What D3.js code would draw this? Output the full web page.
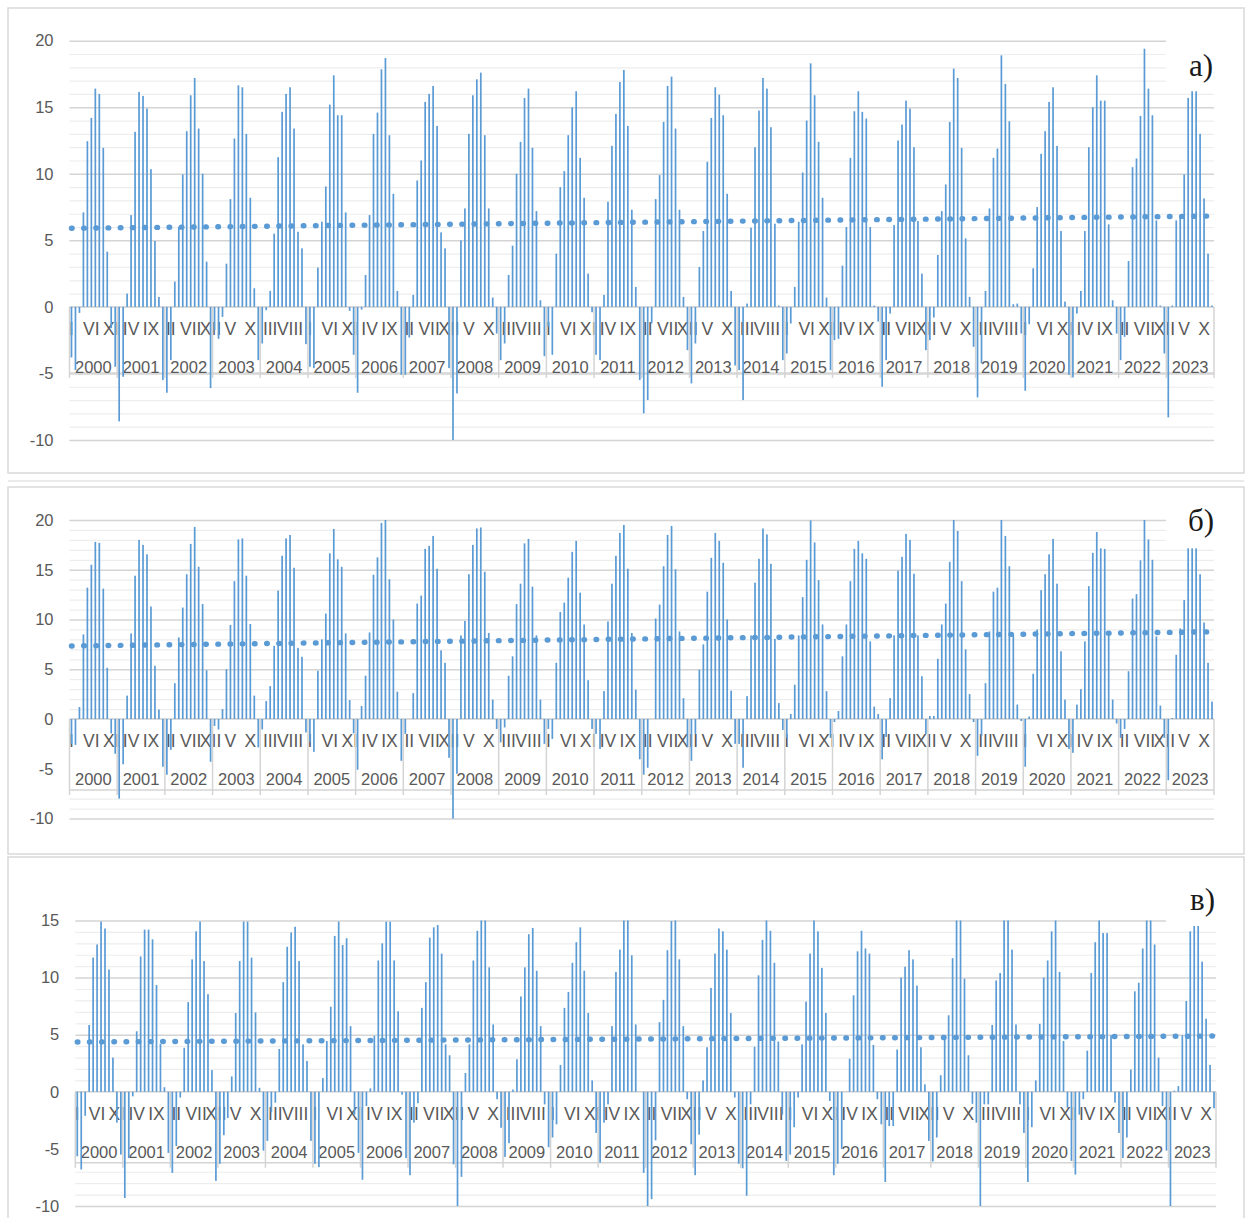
<!doctype html>
<html>

<head>
    <meta charset="utf-8">
    <title>Monthly values 2000-2023</title>
    <script src="https://cdn.jsdelivr.net/npm/d3@7"></script>
    <style type="text/css">
    body {
        margin: 0;
        background: #fff;
    }

    svg text {
        font-family: "Liberation Sans", Arial, sans-serif;
        fill: #595959;
    }

    .tag {
        font-family: "Liberation Serif", "Times New Roman", serif !important;
        fill: #1a1a1a !important;
    }

    .domain {
        visibility: hidden;
    }
    </style>
</head>

<body>
    <svg id="chart" width="1246" height="1218"></svg>
<script type="text/javascript">

// Tick labels
var years = [2000, 2001, 2002, 2003, 2004, 2005, 2006, 2007, 2008, 2009, 2010, 2011,
    2012, 2013, 2014, 2015, 2016, 2017, 2018, 2019, 2020, 2021, 2022, 2023];
var months = ["I", "II", "III", "IV", "V", "VI", "VII", "VIII", "IX", "X", "XI", "XII"];
var ticksA = [-10, -5, 0, 5, 10, 15, 20];
var ticksB = [-10, -5, 0, 5, 10, 15, 20];
var ticksC = [-10, -5, 0, 5, 10, 15];

// Series a) - one row per year, I..XII
var seriesA = [
    -3.8, -4.75, -0.45, 7.1, 12.45, 14.2, 16.4, 16.0, 11.95, 4.15, -1.6, -4.5,
    -8.6, -5.25, 1.0, 6.9, 13.15, 16.15, 15.85, 14.9, 10.35, 4.95, 0.75, -5.5,
    -6.45, -4.0, 1.9, 6.0, 9.95, 13.2, 15.9, 17.2, 13.4, 10.0, 3.4, -6.1,
    -1.75, -2.4, -0.75, 3.25, 8.1, 12.65, 16.65, 16.5, 13.0, 8.2, 1.4, -4.0,
    -2.75, -0.25, 1.2, 5.5, 11.25, 14.65, 16.0, 16.5, 13.4, 5.65, 4.4, -2.8,
    -4.5, -4.6, 2.95, 6.4, 9.05, 15.2, 17.4, 14.4, 14.4, 7.1, -0.3, -3.6,
    -6.45, -0.2, 2.4, 6.9, 13.0, 14.6, 17.85, 18.7, 12.9, 8.5, 1.2, -5.1,
    -5.1, -2.3, 0.9, 9.5, 11.0, 15.4, 16.0, 16.6, 13.6, 5.6, 4.4, -4.6,
    -10.1, -6.5, 5.0, 7.4, 13.0, 15.9, 17.1, 17.6, 12.9, 7.4, 0.7, -2.0,
    -4.0, -2.75, 2.4, 4.6, 10.0, 12.4, 15.7, 16.4, 11.95, 7.2, 0.5, -3.7,
    -1.5, -3.6, 4.0, 9.0, 10.2, 12.9, 15.0, 16.2, 11.2, 8.2, 2.5, -0.4,
    -3.6, -4.0, 0.9, 7.9, 12.1, 14.5, 16.9, 17.8, 13.6, 7.3, 1.5, -5.5,
    -8.0, -7.0, -1.25, 8.1, 9.9, 13.9, 16.6, 17.3, 13.4, 7.3, 0.75, -3.25,
    -5.75, -2.75, 3.0, 5.7, 10.9, 14.2, 16.5, 15.95, 14.4, 8.5, 1.2, -4.4,
    -4.75, -7.0, 0.25, 5.95, 12.0, 14.75, 17.2, 16.4, 13.5, 6.25, 0.1, -4.0,
    -3.5, -1.25, 1.5, 6.4, 10.1, 14.0, 18.3, 15.9, 12.4, 8.2, 0.7, -4.75,
    -2.5, -2.4, 3.1, 6.0, 11.2, 14.7, 16.2, 14.65, 14.15, 6.0, 0.1, -1.1,
    -6.0, -4.0, -0.5, 6.15, 12.5, 13.7, 15.5, 14.9, 12.0, 6.45, 2.5, -3.25,
    -2.5, -0.8, 3.9, 7.2, 9.2, 13.9, 17.9, 17.2, 11.95, 5.15, 0.75, -3.0,
    -6.8, -4.25, 1.2, 7.4, 11.2, 11.9, 18.9, 16.75, 13.95, 0.2, 0.25, -2.0,
    -6.3, -1.3, 2.9, 7.5, 11.5, 13.2, 15.4, 16.5, 12.1, 5.7, 0.4, -5.1,
    -5.3, -0.5, 1.2, 5.7, 12.0, 15.0, 17.4, 15.5, 15.5, 6.2, 0.5, -2.0,
    -4.0, -2.25, 3.45, 10.5, 11.15, 14.35, 19.4, 16.4, 14.4, 6.5, 0.1, -3.5,
    -8.3, 0.1, 6.5, 6.9, 9.95, 15.7, 16.2, 16.2, 13.0, 8.15, 4.0, 0.1
];

// Series б)
var seriesB = [
    -2.5, -2.6, 1.2, 8.5, 13.2, 15.5, 17.8, 17.7, 13.1, 5.15, -1.45, -3.5,
    -8.0, -4.55, 2.35, 8.6, 14.4, 18.0, 17.5, 16.55, 11.3, 5.35, 0.95, -4.8,
    -5.6, -3.1, 3.6, 8.2, 11.2, 14.55, 17.6, 19.3, 15.3, 11.55, 4.9, -4.3,
    -0.7, -1.05, 1.0, 5.0, 9.45, 13.85, 18.05, 18.15, 14.4, 9.55, 2.35, -2.85,
    -1.05, 1.8, 3.3, 7.35, 12.9, 16.4, 18.15, 18.5, 15.2, 7.15, 6.25, -1.35,
    -2.3, -3.3, 4.85, 8.0, 10.6, 16.65, 19.1, 16.05, 15.3, 8.6, 1.9, -1.45,
    -5.1, 1.3, 4.35, 8.7, 14.5, 16.25, 19.7, 20.0, 14.05, 10.0, 2.75, -4.2,
    -1.5, 0.0, 2.6, 11.6, 12.4, 17.1, 17.4, 18.4, 15.1, 6.9, 5.65, -3.9,
    -10.2, -5.5, 8.4, 9.85, 14.55, 17.5, 19.15, 19.25, 14.8, 8.65, 1.95, -1.0,
    -2.35, -0.85, 4.35, 6.3, 11.55, 13.6, 17.65, 18.1, 13.3, 8.4, 1.95, -2.5,
    -1.0, -2.0, 5.65, 10.75, 11.7, 14.2, 16.8, 17.9, 12.7, 9.5, 3.9, -1.0,
    -1.5, -3.0, 2.8, 9.8, 13.6, 16.4, 18.7, 19.5, 15.1, 8.65, 2.95, -4.05,
    -5.6, -4.9, 0.0, 10.1, 11.5, 15.35, 18.5, 19.4, 15.05, 8.8, 2.1, -2.85,
    -4.2, -1.5, 4.95, 7.5, 12.8, 16.2, 18.7, 17.9, 15.7, 10.0, 2.85, -2.5,
    -2.5, -4.9, 2.3, 8.4, 13.7, 16.1, 19.15, 18.55, 15.6, 8.05, 1.6, -1.1,
    -1.9, 0.5, 3.45, 8.4, 12.25, 16.0, 19.95, 17.75, 13.95, 9.5, 2.8, -1.9,
    -0.3, 0.8, 6.3, 9.5, 13.85, 17.1, 17.9, 16.65, 16.1, 7.8, 1.25, 0.5,
    -4.05, -1.8, 2.1, 8.4, 14.9, 16.3, 18.6, 18.0, 14.6, 8.4, 4.3, -1.5,
    0.3, 0.3, 6.05, 9.5, 11.6, 15.8, 20.0, 18.9, 13.85, 7.0, 2.5, -0.3,
    -3.7, -1.7, 3.6, 8.8, 12.8, 13.2, 20.0, 18.4, 15.35, 8.5, 1.45, -0.2,
    -4.8, 0.25, 4.55, 9.0, 12.95, 14.55, 16.55, 18.1, 13.6, 6.8, 1.95, -3.0,
    -3.4, 1.45, 3.0, 7.8, 13.35, 16.7, 18.8, 17.15, 17.1, 8.75, 1.95, -0.45,
    -1.9, -1.0, 4.8, 12.1, 12.55, 15.95, 20.0, 18.05, 16.0, 8.3, 1.35, -1.9,
    -6.15, 0.1, 6.45, 9.1, 11.95, 17.15, 17.15, 17.15, 14.55, 9.7, 5.65, 1.75
];

// Series в)
var seriesC = [
    -5.65, -6.8, -2.1, 5.85, 11.75, 12.9, 14.9, 14.3, 10.7, 3.0, -2.7, -5.5,
    -9.3, -5.8, -0.4, 5.3, 11.85, 14.2, 14.2, 13.35, 9.35, 4.2, 0.4, -5.35,
    -7.1, -4.75, -0.5, 3.85, 7.85, 11.6, 14.05, 14.9, 11.45, 8.55, 1.9, -7.8,
    -6.3, -3.8, -2.3, 1.35, 6.9, 11.45, 14.9, 14.9, 11.75, 6.95, 0.35, -5.15,
    -4.3, -1.8, -0.95, 3.75, 9.6, 12.7, 13.95, 14.45, 11.45, 4.15, 2.7, -4.3,
    -6.3, -6.6, 1.2, 4.45, 7.45, 13.65, 14.9, 12.85, 13.45, 5.75, -2.0, -5.35,
    -7.7, -1.25, 0.3, 4.9, 11.5, 13.0, 14.9, 14.9, 11.5, 7.05, -0.25, -5.8,
    -7.3, -2.7, -1.0, 7.35, 9.6, 13.5, 14.4, 14.6, 12.1, 4.15, 3.2, -6.35,
    -10.0, -7.45, 1.65, 4.15, 11.5, 14.1, 15.0, 15.0, 10.9, 5.9, -0.65, -3.15,
    -5.7, -4.5, 0.2, 2.85, 8.35, 10.9, 13.8, 14.35, 10.6, 5.75, -1.1, -4.85,
    -4.0, -2.85, 2.35, 7.35, 8.75, 11.3, 13.1, 14.4, 10.6, 6.9, 1.0, -3.6,
    -6.2, -2.7, -1.1, 5.75, 10.5, 12.45, 15.0, 15.0, 11.95, 5.9, 0.0, -7.1,
    -10.0, -9.4, -4.25, 6.1, 8.05, 12.4, 14.95, 15.0, 11.6, 5.75, -0.65, -4.6,
    -7.3, -3.75, 1.0, 3.9, 9.1, 12.1, 14.3, 14.05, 12.45, 6.9, -0.5, -6.3,
    -6.7, -9.1, -1.1, 3.95, 10.2, 13.3, 15.0, 14.1, 11.3, 4.4, -2.0, -6.05,
    -5.5, -3.1, -0.5, 4.15, 7.9, 12.1, 15.0, 14.05, 10.85, 6.9, -0.8, -7.3,
    -6.3, -5.0, 0.0, 2.9, 8.45, 12.3, 14.1, 12.55, 12.1, 4.1, -0.65, -2.85,
    -7.9, -3.0, -3.0, 3.7, 10.0, 10.95, 12.4, 11.6, 9.3, 3.9, 0.65, -4.3,
    -6.1, -4.0, 1.45, 4.8, 6.7, 11.7, 15.0, 15.0, 9.9, 3.2, -1.05, -2.7,
    -10.0, -1.1, -1.1, 5.85, 9.75, 10.4, 15.0, 15.0, 12.45, 5.9, -1.1, -3.6,
    -7.9, -3.1, 1.0, 5.95, 10.0, 11.5, 14.05, 15.0, 10.5, 4.45, -1.4, -6.05,
    -7.25, -2.0, -0.65, 3.6, 10.4, 13.1, 15.0, 13.9, 13.9, 4.95, -0.95, -3.6,
    -5.8, -4.0, 1.95, 8.8, 9.55, 12.55, 15.0, 15.0, 12.9, 3.0, -1.25, -5.15,
    -10.0, 0.1, 0.5, 4.95, 7.95, 14.05, 14.6, 14.6, 11.4, 6.4, 2.35, -1.45
];

var blue = "#5b9bd5";

// Layout of the three stacked panels
var panels = [{
    tag: "а)", values: seriesA, ticks: ticksA,
    frame: [8, 8, 1236, 465], x0: 69.5, x1: 1214, yTop: 40.7, yBottom: 440,
    boxH: 66, tagBox: [1166, 30, 76, 57], tagPos: [1189, 76]
}, {
    tag: "б)", values: seriesB, ticks: ticksB,
    frame: [8, 487, 1236, 367], x0: 69.5, x1: 1214, yTop: 520, yBottom: 818.5,
    boxH: 71, tagBox: [1166, 500, 76, 45], tagPos: [1188, 531]
}, {
    tag: "в)", values: seriesC, ticks: ticksC,
    frame: [8, 857, 1236, 380], x0: 75.3, x1: 1216, yTop: 920.5, yBottom: 1206,
    boxH: 71, tagBox: [1166, 870, 76, 56], tagPos: [1190, 910]
}];

var svg = d3.select("#chart");

// thin line between panel a and b frames
svg.append("line")
    .attr("x1", 8).attr("x2", 1244)
    .attr("y1", 481).attr("y2", 481)
    .attr("stroke", "#e3e3e3")
    .attr("stroke-width", 1.5);

panels.forEach(drawPanel);

function drawPanel(p) {
    var n = p.values.length;
    var lo = d3.min(p.ticks),
        hi = d3.max(p.ticks);
    var width = p.x1 - p.x0;

    var g = svg.append("g");

    // Frame
    g.append("rect")
        .attr("x", p.frame[0]).attr("y", p.frame[1])
        .attr("width", p.frame[2]).attr("height", p.frame[3])
        .attr("fill", "none")
        .attr("stroke", "#d9d9d9")
        .attr("stroke-width", 1.5);

    // Scales
    var x = d3.scaleBand().domain(d3.range(n)).range([p.x0, p.x1]).padding(0);
    var xYear = d3.scaleBand().domain(years).range([p.x0, p.x1]).padding(0);
    var y = d3.scaleLinear().domain([lo, hi]).range([p.yBottom, p.yTop]);
    var cx = function(i) {
        return x(i) + x.bandwidth() / 2;
    };
    var y0 = y(0);

    // Minor gridlines (every unit)
    g.append("g")
        .attr("transform", "translate(" + p.x0 + ",0)")
        .call(d3.axisLeft(y)
            .tickValues(d3.range(lo, hi + 1).filter(function(v) { return v % 5 !== 0; }))
            .tickSize(-width)
            .tickFormat(""))
        .call(function(a) {
            a.selectAll(".tick line").attr("stroke", "#ededed").attr("stroke-width", 1.2);
        });

    // Major gridlines
    g.append("g")
        .attr("transform", "translate(" + p.x0 + ",0)")
        .call(d3.axisLeft(y)
            .tickValues(p.ticks)
            .tickSize(-width)
            .tickFormat(""))
        .call(function(a) {
            a.selectAll(".tick line").attr("stroke", "#d4d4d4").attr("stroke-width", 1.5);
        });

    // Y labels (plain hyphen for negatives, as in the original)
    g.append("g")
        .attr("transform", "translate(" + p.x0 + ",0)")
        .call(d3.axisLeft(y)
            .tickValues(p.ticks)
            .tickSize(0)
            .tickPadding(16)
            .tickFormat(function(d) { return String(d); }))
        .call(function(a) {
            a.selectAll("text").attr("font-size", 16.5).attr("font-family", "Liberation Sans, Arial, sans-serif");
        });

    // Category label area (white box under the zero line)
    g.append("rect")
        .attr("x", p.x0).attr("y", y0)
        .attr("width", width).attr("height", p.boxH)
        .attr("fill", "#fff");

    g.append("line")
        .attr("x1", p.x0).attr("x2", p.x1)
        .attr("y1", y0 + p.boxH).attr("y2", y0 + p.boxH)
        .attr("stroke", "#d4d4d4").attr("stroke-width", 1.5);

    // Month labels, every 5th month
    g.append("g")
        .attr("transform", "translate(0," + y0 + ")")
        .call(d3.axisBottom(x)
            .tickValues(d3.range(0, n, 5))
            .tickSize(0)
            .tickPadding(16)
            .tickFormat(function(i) { return months[i % 12]; }))
        .call(function(a) {
            a.selectAll("text").attr("font-size", 17.5).attr("font-family", "Liberation Sans, Arial, sans-serif");
        });

    // Year labels
    g.append("g")
        .attr("transform", "translate(0," + y0 + ")")
        .call(d3.axisBottom(xYear).tickSize(0).tickPadding(54))
        .call(function(a) {
            a.selectAll("text").attr("font-size", 16.5).attr("font-family", "Liberation Sans, Arial, sans-serif");
        });

    // Year separators
    var seps = years.map(function(yr) { return xYear(yr); }).concat([p.x1]);
    g.selectAll(".sep")
        .data(seps)
        .join("line")
        .attr("class", "sep")
        .attr("x1", function(d) { return d; })
        .attr("x2", function(d) { return d; })
        .attr("y1", y0)
        .attr("y2", y0 + p.boxH + 5)
        .attr("stroke", "#d4d4d4")
        .attr("stroke-width", 1.5);

    // Zero axis line
    g.append("line")
        .attr("x1", p.x0).attr("x2", p.x1)
        .attr("y1", y0).attr("y2", y0)
        .attr("stroke", "#cfcfcf").attr("stroke-width", 1.5);

    // Bars (clipped to the axis range like the original)
    g.selectAll(".bar")
        .data(p.values)
        .join("rect")
        .attr("class", "bar")
        .attr("x", function(d, i) { return cx(i) - 0.85; })
        .attr("width", 1.7)
        .attr("y", function(d) { return Math.min(y(Math.min(d, hi)), y0); })
        .attr("height", function(d) { return Math.abs(y(Math.max(lo, Math.min(d, hi))) - y0); })
        .attr("fill", blue);

    // Linear trend (least squares over month index)
    var idx = d3.range(n);
    var mx = d3.mean(idx),
        my = d3.mean(p.values);
    var sxy = d3.sum(idx, function(i) { return (i - mx) * (p.values[i] - my); });
    var sxx = d3.sum(idx, function(i) { return (i - mx) * (i - mx); });
    var slope = sxy / sxx,
        icpt = my - slope * mx;

    var trend = d3.line()
        .x(function(i) { return cx(i); })
        .y(function(i) { return y(icpt + slope * i); });

    g.append("path")
        .datum([0, n - 1])
        .attr("d", trend)
        .attr("fill", "none")
        .attr("stroke", blue)
        .attr("stroke-width", 5.4)
        .attr("stroke-linecap", "round")
        .attr("stroke-dasharray", "0.6 11.6");

    // Panel tag
    g.append("rect")
        .attr("x", p.tagBox[0]).attr("y", p.tagBox[1])
        .attr("width", p.tagBox[2]).attr("height", p.tagBox[3])
        .attr("fill", "#fff");

    g.append("text")
        .attr("class", "tag")
        .attr("x", p.tagPos[0])
        .attr("y", p.tagPos[1])
        .attr("font-size", 31)
        .text(p.tag);
}
</script>
</body>

</html>
